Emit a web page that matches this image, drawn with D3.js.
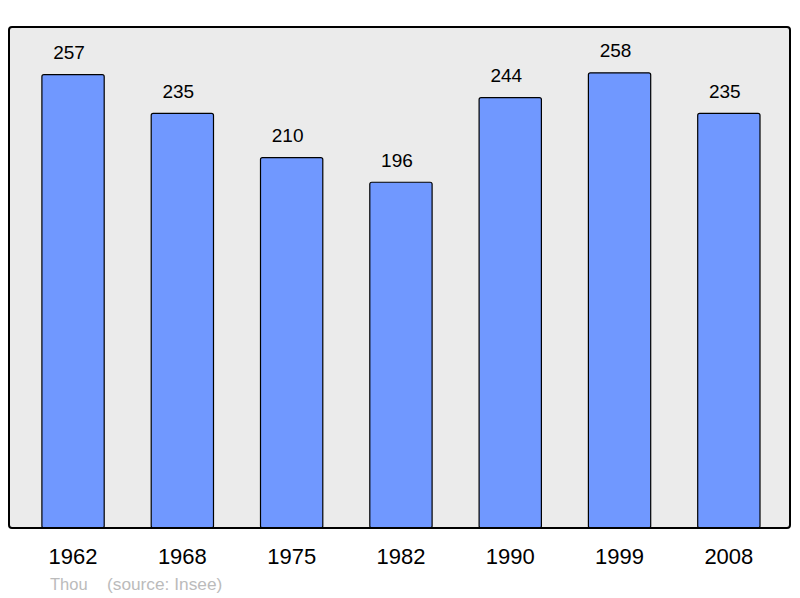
<!DOCTYPE html>
<html>
<head>
<meta charset="utf-8">
<script src="https://cdn.jsdelivr.net/npm/d3@7"></script>
<style>
  body { margin: 0; background: #fff; }
  text { font-family: "Liberation Sans", Arial, sans-serif; }
</style>
</head>
<body>
<div id="chart"></div>
<script>
// data
var years = ['1962', '1968', '1975', '1982', '1990', '1999', '2008'];
var population = [257, 235, 210, 196, 244, 258, 235];
var townName = 'Thou';
var sourceNote = '(source: Insee)';

var svgWidth = 800;
var svgHeight = 598;

var frame = { left: 9, top: 27, right: 790, bottom: 528 };

var svg = d3.select('#chart')
  .append('svg')
  .attr('width', svgWidth)
  .attr('height', svgHeight);

// plot background
svg.append('rect')
  .attr('x', frame.left)
  .attr('y', frame.top)
  .attr('width', frame.right - frame.left)
  .attr('height', frame.bottom - frame.top)
  .attr('rx', 3)
  .attr('fill', '#ebebeb');

var xScale = d3.scaleBand()
  .domain(years)
  .range([18.4, 783.5])
  .paddingInner(0.43)
  .paddingOuter(0.215);

var yScale = d3.scaleLinear()
  .domain([0, 284])
  .range([frame.bottom, frame.top]);

var data = years.map((y, i) => ({ year: y, value: population[i] }));

// bars
svg.selectAll('.bar')
  .data(data)
  .enter()
  .append('rect')
  .attr('class', 'bar')
  .attr('x', d => xScale(d.year))
  .attr('y', d => yScale(d.value))
  .attr('width', xScale.bandwidth())
  .attr('height', d => yScale(0) - yScale(d.value))
  .attr('rx', 2)
  .attr('fill', '#7098ff')
  .attr('stroke', '#000')
  .attr('stroke-width', 1.2);

// value labels
svg.selectAll('.val')
  .data(data)
  .enter()
  .append('text')
  .attr('class', 'val')
  .attr('x', d => xScale(d.year) + xScale.bandwidth() / 2 - 4)
  .attr('y', d => yScale(d.value) - 15.5)
  .attr('text-anchor', 'middle')
  .attr('font-size', '19px')
  .attr('fill', '#000')
  .text(d => d.value);

// frame border drawn over bar bottoms
svg.append('rect')
  .attr('x', frame.left)
  .attr('y', frame.top)
  .attr('width', frame.right - frame.left)
  .attr('height', frame.bottom - frame.top)
  .attr('rx', 3)
  .attr('fill', 'none')
  .attr('stroke', '#000')
  .attr('stroke-width', 2);

// x axis labels
var xAxis = d3.axisBottom(xScale).tickSize(0).tickPadding(0);
var axisG = svg.append('g')
  .attr('transform', `translate(0, ${frame.bottom})`)
  .call(xAxis);
axisG.select('.domain').remove();
axisG.selectAll('text')
  .attr('y', 36)
  .attr('dy', 0)
  .attr('font-size', '22px')
  .attr('font-family', '"Liberation Sans", Arial, sans-serif')
  .attr('fill', '#000');

// footer
svg.append('text')
  .attr('x', 50)
  .attr('y', 590)
  .attr('font-size', '16.5px')
  .attr('fill', '#bbb')
  .text(townName);

svg.append('text')
  .attr('x', 107)
  .attr('y', 590)
  .attr('font-size', '17.3px')
  .attr('fill', '#bbb')
  .text(sourceNote);
</script>
</body>
</html>
